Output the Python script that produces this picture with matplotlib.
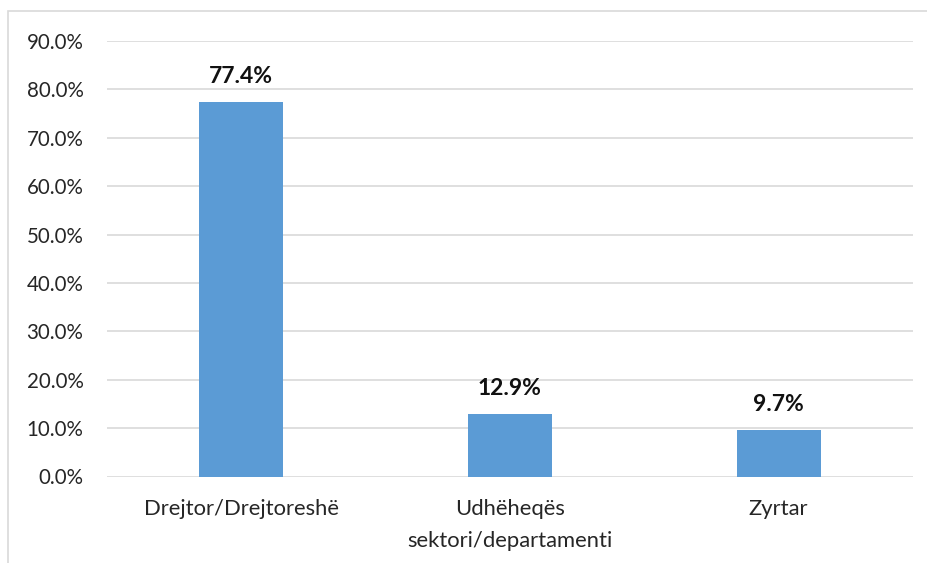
import matplotlib
matplotlib.use("Agg")
import matplotlib.pyplot as plt
from matplotlib.patches import Rectangle
from matplotlib.ticker import FuncFormatter

categories = ["Drejtor/Drejtoreshë", "Udhëheqës\nsektori/departamenti", "Zyrtar"]
values = [0.774, 0.129, 0.097]
labels = ["77.4%", "12.9%", "9.7%"]
yticks = [0.0, 0.1, 0.2, 0.3, 0.4, 0.5, 0.6, 0.7, 0.8, 0.9]

plt.rcParams['font.family'] = ['Lato', 'DejaVu Sans']

W, H = 928, 563
fig = plt.figure(figsize=(W / 100, H / 100), dpi=100)
fig.patches.append(Rectangle((8 / W, -0.1), 1.2, 1 - 11 / H + 0.1, transform=fig.transFigure,
                             fill=False, edgecolor='#d9d9d9', linewidth=1.2))

ax = fig.add_axes([107 / W, 1 - 476.5 / H, (913 - 107) / W, (476.5 - 41) / H])
x = range(len(categories))
ax.bar(x, values, width=0.313, color='#5B9BD5', zorder=3)
ax.set_xlim(-0.5, len(categories) - 0.5)
ax.set_ylim(0, 0.9)
ax.set_yticks(yticks)
ax.yaxis.set_major_formatter(FuncFormatter(lambda v, p: f"{v*100:.1f}%"))
ax.set_xticks(list(x))
ax.set_xticklabels(categories, fontsize=15.8, color='#262626', linespacing=1.75)
ax.tick_params(axis='y', labelsize=14.8, labelcolor='#262626', length=0, pad=17)
ax.tick_params(axis='x', length=0, pad=16.5)
ax.grid(axis='y', color='#d9d9d9', linewidth=1.2, zorder=0)
for s in ax.spines.values():
    s.set_visible(False)
for i, (v, lab) in enumerate(zip(values, labels)):
    ax.annotate(lab, (i, v), xytext=(0, 13.5), textcoords='offset points', ha='center',
                va='baseline', fontsize=16.5, fontweight='bold', color='#111111')

fig.savefig("out.png", dpi=100, facecolor='white')
